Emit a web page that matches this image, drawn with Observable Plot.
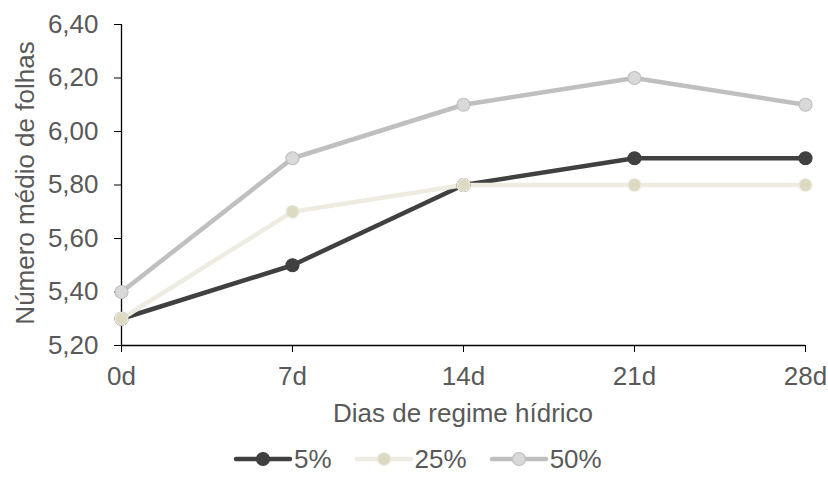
<!DOCTYPE html>
<html>
<head>
<meta charset="utf-8">
<script src="https://cdn.jsdelivr.net/npm/d3@7"></script>
<script src="https://cdn.jsdelivr.net/npm/@observablehq/plot@0.6"></script>
<style>
  body { margin: 0; background: #fff; font-family: "Liberation Sans", Arial, sans-serif; }
  #chart { width: 828px; height: 495px; position: relative; }
  .legend { position: absolute; top: 444px; left: 233px; display: flex; gap: 22px; font-size: 26px; line-height: 30px; color: #595959; }
  .legend .item { display: flex; align-items: center; }
  .legend svg { margin-right: 1px; }
</style>
</head>
<body>
<div id="chart"></div>
<script>
const categories = ["0d", "7d", "14d", "21d", "28d"];
const seriesNames = ["5%", "25%", "50%"];
const values5 = [5.30, 5.50, 5.80, 5.90, 5.90];
const values25 = [5.30, 5.70, 5.80, 5.80, 5.80];
const values50 = [5.40, 5.90, 6.10, 6.20, 6.10];
const yTicks = [5.2, 5.4, 5.6, 5.8, 6.0, 6.2, 6.4];

const lineColors = {"5%": "#404040", "25%": "#EEECE1", "50%": "#BFBFBF"};
const fillColors = {"5%": "#404040", "25%": "#DDD9C3", "50%": "#D9D9D9"};

const allValues = [values5, values25, values50];
const data = [];
seriesNames.forEach((s, i) => {
  categories.forEach((c, j) => data.push({series: s, day: c, value: allValues[i][j]}));
});

const fmt = d => d.toFixed(2).replace(".", ",");

const plot = Plot.plot({
  width: 828,
  height: 430,
  marginLeft: 121,
  marginRight: 23,
  marginTop: 24,
  marginBottom: 85,
  style: {fontFamily: '"Liberation Sans", Arial, sans-serif', fontSize: "26px", color: "#595959", background: "#fff"},
  x: {type: "point", domain: categories, padding: 0},
  y: {domain: [5.2, 6.4]},
  marks: [
    Plot.axisY({ticks: yTicks, tickFormat: fmt, tickSize: 7, tickPadding: 16, stroke: "#000", fill: "#595959", fontSize: 26, label: null}),
    Plot.axisX({tickSize: 7, tickPadding: 14, stroke: "#000", fill: "#595959", fontSize: 26, label: null}),
    Plot.ruleY([5.2], {stroke: "#000", strokeWidth: 1.3}),
    Plot.ruleX([categories[0]], {stroke: "#000", strokeWidth: 1.3}),
    Plot.line(data, {x: "day", y: "value", z: "series", stroke: d => lineColors[d.series], strokeWidth: 4.5}),
    Plot.dot(data, {x: "day", y: "value", r: 6.5, fill: d => fillColors[d.series], stroke: d => lineColors[d.series], strokeWidth: 1.2})
  ]
});

const svg = d3.select(plot);
svg.append("text")
  .attr("x", 463).attr("y", 422)
  .attr("text-anchor", "middle")
  .attr("fill", "#595959").style("font-size", "26px")
  .text("Dias de regime hídrico");
svg.append("text")
  .attr("transform", "translate(34,183) rotate(-90)")
  .attr("text-anchor", "middle")
  .attr("fill", "#595959").style("font-size", "26px")
  .text("Número médio de folhas");

const chart = document.getElementById("chart");
chart.appendChild(plot);

const legend = document.createElement("div");
legend.className = "legend";
seriesNames.forEach(s => {
  const item = document.createElement("div");
  item.className = "item";
  item.innerHTML = `<svg width="60" height="20"><line x1="3" y1="10" x2="57" y2="10" stroke="${lineColors[s]}" stroke-width="4.5" stroke-linecap="round"/><circle cx="30" cy="10" r="6.5" fill="${fillColors[s]}" stroke="${lineColors[s]}" stroke-width="1.2"/></svg><span>${s}</span>`;
  legend.appendChild(item);
});
chart.appendChild(legend);
</script>
</body>
</html>
